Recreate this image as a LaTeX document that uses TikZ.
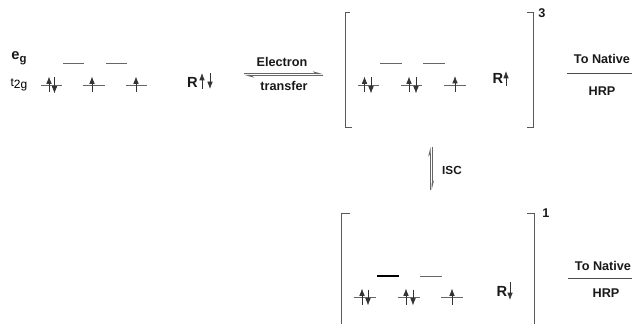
\documentclass[tikz,border=0pt]{standalone}
\usepackage{fontspec}
\setmainfont{Liberation Sans}
\usetikzlibrary{arrows.meta}
\tikzset{
  lev/.style={draw=black!60,line width=0.6pt},
  levdark/.style={draw=black,line width=0.8pt},
  brk/.style={draw=black!65,line width=0.7pt},
  rule/.style={draw=black!70,line width=0.6pt},
  spinu/.style={draw=black!80,line width=0.5pt,-{Latex[length=5.5pt,width=4.2pt]}},
  txt/.style={font=\bfseries\fontsize{9.5pt}{11pt}\selectfont,inner sep=0pt,text=black!90},
  big/.style={font=\bfseries\fontsize{11pt}{13pt}\selectfont,inner sep=0pt,text=black!90},
  small/.style={font=\fontsize{9pt}{10pt}\selectfont,inner sep=0pt,text=black},
  iscl/.style={font=\bfseries\fontsize{8.8pt}{10pt}\selectfont,inner sep=0pt,text=black!90},
  eqm/.style={draw=black!60,line width=0.9pt,-{Stealth[harpoon,length=6pt,width=3.4pt]}},
  iscm/.style={draw=black!60,line width=0.6pt,-{Stealth[harpoon,length=6pt,width=3pt]}},
}
\newcommand{\up}[2]{\draw[spinu] (#1,#2+8) -- (#1,#2-8);}
\newcommand{\dn}[2]{\draw[spinu] (#1,#2-8) -- (#1,#2+8);}
\newcommand{\lv}[3]{\draw[lev] (#1,#3) -- (#2,#3);}
\begin{document}
\begin{tikzpicture}[x=0.75pt,y=-0.75pt]
\useasboundingbox (0,0) rectangle (632,324);
% left configuration
\node[big] (eg) at (19,58) {e\raisebox{-2.5pt}{\fontsize{8.5pt}{9pt}\selectfont g}};
\node[small] (t2g) at (19,85) {t\raisebox{-1.5pt}{2g}};
\lv{63}{84}{63}\lv{106}{127}{63}
\lv{41}{62}{85}\lv{83}{105}{85}\lv{126}{147}{85}
\up{49}{84.5}\dn{54.5}{85.5}\up{92}{84.5}\up{136}{84.5}
\node[big] (r0) at (192.5,82) {R};
\up{202}{81}\dn{210}{81}
% electron transfer
\node[txt] (et) at (282,62) {Electron};
\node[txt] (tr) at (284,86) {transfer};
\coordinate (ea) at (244,73.6);\coordinate (eb) at (323,73.6);
\coordinate (ec) at (244,75.4);\coordinate (ed) at (323,75.4);
\draw[eqm] (ea) -- (eb);
\draw[eqm] (ed) -- (ec);
% triplet
\draw[brk] (350,12) -- (345,12) -- (345,127) -- (352,127);
\draw[brk] (527,12) -- (533,12) -- (533,127) -- (527,127);
\node[txt] (s3) at (542,13) {3};
\lv{380}{402}{63}\lv{423}{445}{63}
\lv{358}{379}{85}\lv{401}{422}{85}\lv{444}{466}{85}
\up{364.5}{84.5}\dn{371}{85.5}\up{409}{84.5}\dn{416}{85.5}\up{455}{84}
\node[big] (r1) at (498,78) {R};
\draw[spinu] (506,86) -- (506,71);
\node[txt] (n1) at (602,59) {To Native};
\node[txt] (h1) at (602,91) {HRP};
\draw[rule] (567,73) -- (632,73);
% ISC
\coordinate (ia) at (430.2,190);\coordinate (ib) at (430.2,147);
\coordinate (ic) at (432,147);\coordinate (id) at (432,190);
\draw[iscm] (ia) -- (ib);
\draw[iscm] (ic) -- (id);
\node[iscl] (isc) at (452,170) {ISC};
% singlet
\draw[brk] (350,213) -- (341,213) -- (341,324);
\draw[brk] (527,213) -- (534,213) -- (534,324);
\node[txt] (s1) at (546,213) {1};
\draw[levdark] (377,276) -- (399,276);
\lv{420}{442}{276}
\lv{354}{376}{297}\lv{398}{420}{297}\lv{441}{463}{297}
\up{362}{296.5}\dn{368}{297.5}\up{406}{296.5}\dn{413}{297.5}\up{452}{296.5}
\node[big] (r2) at (502,291) {R};
\draw[spinu] (510,282) -- (510,300);
\node[txt] (n2) at (603,266) {To Native};
\node[txt] (h2) at (606,293) {HRP};
\draw[rule] (568,278) -- (632,278);
\end{tikzpicture}
\end{document}
